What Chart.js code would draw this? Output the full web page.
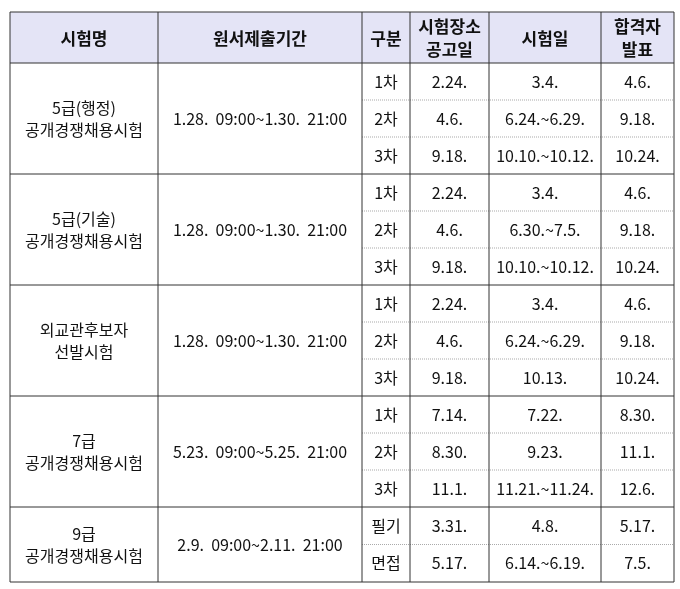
<!DOCTYPE html>
<html><head><meta charset="utf-8">
<script src="https://cdn.jsdelivr.net/npm/chart.js@4"></script>
<style>html,body{margin:0;padding:0;background:#fff}</style>
</head><body>
<canvas id="c" width="680" height="589"></canvas>
<script>
const headers = ["시험명", "원서제출기간", "구분", "시험장소\n공고일", "시험일", "합격자\n발표"];
const examNames = ["5급(행정)\n공개경쟁채용시험", "5급(기술)\n공개경쟁채용시험", "외교관후보자\n선발시험", "7급\n공개경쟁채용시험", "9급\n공개경쟁채용시험"];
const applyPeriods = ["1.28.  09:00~1.30.  21:00", "1.28.  09:00~1.30.  21:00", "1.28.  09:00~1.30.  21:00", "5.23.  09:00~5.25.  21:00", "2.9.  09:00~2.11.  21:00"];
const stages = [["1차","2차","3차"],["1차","2차","3차"],["1차","2차","3차"],["1차","2차","3차"],["필기","면접"]];
const venueDates = [["2.24.","4.6.","9.18."],["2.24.","4.6.","9.18."],["2.24.","4.6.","9.18."],["7.14.","8.30.","11.1."],["3.31.","5.17."]];
const examDates = [["3.4.","6.24.~6.29.","10.10.~10.12."],["3.4.","6.30.~7.5.","10.10.~10.12."],["3.4.","6.24.~6.29.","10.13."],["7.22.","9.23.","11.21.~11.24."],["4.8.","6.14.~6.19."]];
const resultDates = [["4.6.","9.18.","10.24."],["4.6.","9.18.","10.24."],["4.6.","9.18.","10.24."],["8.30.","11.1.","12.6."],["5.17.","7.5."]];

const colX = [10, 158, 362, 410, 489, 601, 674];
const headTop = 12, headBot = 63, groupH = 111, tableBot = 582;

const FONT = '"Noto Sans CJK KR","Noto Sans",sans-serif';
const tablePlugin = {
  id: 'table',
  afterDraw(chart) {
    const ctx = chart.ctx, xs = chart.scales.x, ys = chart.scales.y;
    const X = v => xs.getPixelForValue(v), Y = v => ys.getPixelForValue(v);
    const text = (s, cx, cy, bold) => {
      ctx.font = (bold ? 'bold 17px ' : '16px ') + FONT;
      ctx.fillStyle = '#111'; ctx.textAlign = 'center'; ctx.textBaseline = 'middle';
      const lines = s.split('\n'), lh = bold ? 23 : 22;
      lines.forEach((l, i) => ctx.fillText(l, X(cx), Y(cy + (i - (lines.length - 1) / 2) * lh)));
    };
    const line = (x1, y1, x2, y2, color, dash, w) => {
      ctx.save(); ctx.strokeStyle = color; ctx.lineWidth = w || 1; ctx.setLineDash(dash || []);
      ctx.beginPath(); ctx.moveTo(X(x1), Y(y1)); ctx.lineTo(X(x2), Y(y2)); ctx.stroke(); ctx.restore();
    };
    ctx.fillStyle = '#e4e4f6';
    ctx.fillRect(X(colX[0]), Y(headTop), X(colX[6]) - X(colX[0]), Y(headBot) - Y(headTop));
    headers.forEach((h, i) => text(h, (colX[i] + colX[i + 1]) / 2, (headTop + headBot) / 2 + 1, true));
    let top = headBot;
    const bottoms = [];
    examNames.forEach((name, g) => {
      const n = stages[g].length;
      const gh = g < examNames.length - 1 ? groupH : (tableBot - top);
      const rh = gh / n;
      const mid = top + gh / 2;
      text(name, (colX[0] + colX[1]) / 2, mid);
      text(applyPeriods[g], (colX[1] + colX[2]) / 2, mid);
      for (let r = 0; r < n; r++) {
        const cy = top + rh * (r + 0.5);
        text(stages[g][r], (colX[2] + colX[3]) / 2, cy);
        text(venueDates[g][r], (colX[3] + colX[4]) / 2, cy);
        text(examDates[g][r], (colX[4] + colX[5]) / 2, cy);
        text(resultDates[g][r], (colX[5] + colX[6]) / 2, cy);
        if (r > 0) line(colX[2], top + rh * r, colX[6], top + rh * r, '#aaa', [1, 1], 1);
      }
      top += gh;
      bottoms.push(top);
    });
    const dark = '#333';
    line(colX[0], headTop, colX[6], headTop, dark);
    line(colX[0], headBot, colX[6], headBot, dark);
    bottoms.forEach(b => line(colX[0], b, colX[6], b, dark));
    colX.forEach(x => line(x, headTop, x, tableBot, dark));
  }
};

new Chart(document.getElementById('c'), {
  type: 'scatter',
  data: { datasets: [{ data: [], pointRadius: 0 }] },
  options: {
    responsive: false, animation: false, devicePixelRatio: 1,
    layout: { padding: 0 },
    plugins: { legend: { display: false }, tooltip: { enabled: false } },
    scales: {
      x: { type: 'linear', min: 0, max: 680, display: false },
      y: { type: 'linear', min: 0, max: 589, reverse: true, display: false }
    }
  },
  plugins: [tablePlugin]
});
</script>
</body></html>
